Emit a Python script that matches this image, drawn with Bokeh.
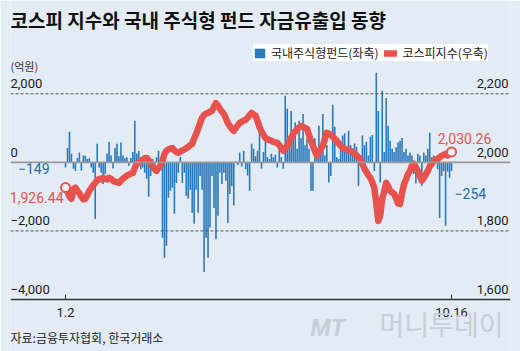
from bokeh.plotting import figure
from bokeh.models import Range1d, FixedTicker, Span, Label, Legend, LegendItem
from bokeh.core.properties import value
from bokeh.embed import file_html
from bokeh.resources import INLINE

# 국내주식형펀드 자금유출입 (억원), trading days 2015-01-02 .. 2015-10-16
fund = [
    -149, 420, 890, 250, -190, -250, 130, 290, -240, 200,
    190, 100, 120, -150, -300, -1650, 540, -150, -300, -630,
    -350, 250, 600, 200, -180, 420, 540, 180, 580, 200,
    120, 150, -100, 130, 300, 1210, 260, 340, -200, -150,
    -300, -480, -1000, -400, 100, -200, 150, 340, -200, -2200,
    -2780, -2430, -1030, -830, -740, -1500, -600, -300, 160, -600,
    -300, -980, -1060, -800, -1470, -1790, -800, -1470, -400, -800,
    -3200, -2200, -2780, -1900, -400, -1330, -2240, -1560, -300, -630,
    -300, -540, -1760, -920, -700, -1260, 30, -80, 290, -120,
    340, -200, -380, -830, 540, 400, 180, 340, 1010, -190,
    300, 630, 150, 100, 250, 150, 220, -150, 400, 150,
    -190, 1940, 1560, 600, 1500, 870, 1160, 400, 1210, 700,
    1410, 500, 700, 400, -830, -830, 700, 400, 1070, 250,
    1410, 200, 500, -590, -400, 1680, 1040, 150, 100, 400,
    780, 850, 300, 920, 500, 400, 550, 450, -680, 200,
    780, 500, 600, 200, 750, 800, -250, 2610, 1500, -590,
    2090, 300, 1880, 1070, 630, 400, 300, 440, 580, 630,
    710, 300, 400, 200, 290, 200, -340, -620, 250, 200,
    -680, 290, 200, 400, 860, 150, 200, 100, -200, -1620,
    -400, -250, -1850, -270, -450, -254,
]

# 코스피지수
kospi = [
    1926.44, 1915, 1900, 1894, 1922, 1926, 1917, 1910, 1900, 1892,
    1894, 1905, 1917, 1925, 1934, 1940, 1948, 1952, 1950, 1955,
    1952, 1950, 1955, 1952, 1946, 1944, 1942, 1940, 1947, 1952,
    1957, 1961, 1964, 1967, 1969, 1984, 1996, 1999, 2004, 2008,
    2012, 2013, 2006, 1999, 1988, 1980, 1975, 1983, 1990, 2005,
    2025, 2034, 2038, 2040, 2042, 2035, 2030, 2028, 2032, 2034,
    2038, 2041, 2045, 2050, 2054, 2070, 2083, 2098, 2115, 2130,
    2138, 2142, 2144, 2148, 2150, 2162, 2173, 2165, 2156, 2148,
    2141, 2128, 2115, 2106, 2098, 2092, 2100, 2108, 2115, 2118,
    2122, 2124, 2130, 2138, 2144, 2140, 2136, 2120, 2103, 2090,
    2080, 2071, 2068, 2065, 2063, 2060, 2058, 2057, 2050, 2042,
    2034, 2040, 2048, 2060, 2072, 2083, 2090, 2096, 2102, 2106,
    2104, 2100, 2098, 2080, 2063, 2048, 2033, 2019, 2030, 2040,
    2048, 2068, 2086, 2084, 2080, 2075, 2068, 2063, 2055, 2048,
    2042, 2040, 2037, 2035, 2034, 2030, 2025, 2020, 2015, 2010,
    1995, 1981, 1972, 1963, 1955, 1942, 1925, 1880, 1829, 1846,
    1894, 1915, 1940, 1930, 1917, 1912, 1908, 1895, 1880, 1879,
    1910, 1937, 1950, 1966, 1975, 1990, 1996, 1985, 1975, 1960,
    1946, 1955, 1965, 1975, 1988, 1996, 2003, 2008, 2010, 2015,
    2019, 2022, 2025, 2020, 2028, 2030.26,
]

days = list(range(len(fund)))
x_tick_days = [0, len(fund) - 1]
x_tick_labels = ["1.2", "10.16"]

left_ticks = [2000, 0, -2000, -4000]
left_tick_labels = ["2,000", "0", "\u22122,000", "\u22124,000"]
right_ticks = [2200, 2000, 1800, 1600]
right_tick_labels = ["2,200", "2,000", "1,800", "1,600"]

first_fund_label = "\u2212149"
last_fund_label = "\u2212254"
first_kospi_label = "1,926.44"
last_kospi_label = "2,030.26"

title_text = "코스피 지수와 국내 주식형 펀드 자금유출입 동향"
unit_text = "(억원)"
source_text = "자료:금융투자협회, 한국거래소"
legend_labels = ["국내주식형펀드(좌축)", "코스피지수(우축)"]

BG = "#e3ebf4"
BLUE = "#2a79bb"
RED = "#e8524e"
TEAL = "#1f6f9f"
KFONT = "Noto Sans CJK KR"
NFONT = "Roboto"

Y_MIN, Y_MAX = -4000, 4720
# frame covers the whole canvas; the axis is pinned at the -4,000 line
p = figure(width=520, height=351, output_backend="svg", toolbar_location=None,
           x_range=Range1d(-27.8, 224.8), y_range=Range1d(-5516, Y_MAX),
           y_axis_location=None, min_border_left=10, min_border_right=10,
           min_border_top=0, min_border_bottom=0)
p.extra_y_ranges = {"kospi": Range1d(1448.4, 2472)}
p.background_fill_color = BG
p.border_fill_color = BG
p.outline_line_color = None
p.xgrid.visible = False
p.ygrid.visible = False
p.title.visible = False

# grid lines
for v in [2000, -2000]:
    p.add_layout(Span(location=v, dimension="width", line_color="#555555",
                      line_dash="3 2", line_width=1))
p.add_layout(Span(location=0, dimension="width", line_color="#9a9a9a", line_width=1.6))

bars = p.vbar(x=days, top=fund, bottom=0, width=0.8, fill_color=BLUE, line_color=None)
line = p.line(days, kospi, y_range_name="kospi", line_color=RED, line_width=6.5,
              line_join="round", line_cap="round")
p.scatter([days[0], days[-1]], [kospi[0], kospi[-1]], y_range_name="kospi", size=9,
          fill_color="#f4f4f4", line_color=RED, line_width=2)

# bottom axis
ax = p.xaxis[0]
ax.fixed_location = Y_MIN
ax.ticker = FixedTicker(ticks=x_tick_days)
ax.major_label_overrides = {d: t for d, t in zip(x_tick_days, x_tick_labels)}
ax.major_tick_in = 5
ax.major_tick_out = 0
ax.minor_tick_line_color = None
ax.axis_line_color = "#333333"
ax.axis_line_width = 1.5
ax.major_tick_line_color = "#333333"
ax.major_label_text_font = NFONT
ax.major_label_text_font_size = "13px"
ax.major_label_text_color = "#222222"
ax.major_label_standoff = 8

# y tick labels above grid lines
xs, xe = p.x_range.start, p.x_range.end
p.text(x=[xs] * len(left_ticks), y=left_ticks, text=left_tick_labels,
       text_align="left", text_baseline="middle", y_offset=-10,
       text_font=value(NFONT), text_font_size="13px", text_color="#222222")
p.text(x=[xe] * len(right_ticks), y=right_ticks, text=right_tick_labels, y_range_name="kospi",
       text_align="right", text_baseline="middle", y_offset=-10, x_offset=-2,
       text_font=value(NFONT), text_font_size="13px", text_color="#222222")

# value annotations
p.text(x=[days[0]], y=[kospi[0]], text=[first_kospi_label], y_range_name="kospi",
       text_align="right", text_baseline="middle", x_offset=-2, y_offset=10,
       text_font=value(NFONT), text_font_size="14px", text_color=RED)
p.text(x=[days[-1]], y=[kospi[-1]], text=[last_kospi_label], y_range_name="kospi",
       text_align="center", text_baseline="middle", x_offset=13, y_offset=-13,
       text_font=value(NFONT), text_font_size="14px", text_color=RED)
p.text(x=[days[0]], y=[fund[0]], text=[first_fund_label],
       text_align="right", text_baseline="middle", x_offset=-16, y_offset=1,
       text_font=value(NFONT), text_font_size="14px", text_color=TEAL)
p.text(x=[days[-1]], y=[fund[-1]], text=[last_fund_label],
       text_align="left", text_baseline="middle", x_offset=3, y_offset=22,
       text_font=value(NFONT), text_font_size="14px", text_color=TEAL)

# title, unit, source, watermark (screen units from frame bottom-left)
p.add_layout(Label(x=0, y=332, x_units="screen", y_units="screen", text=title_text,
                   text_font=KFONT, text_font_size="19px", text_font_style="bold",
                   text_color="#111111", text_baseline="middle"))
p.add_layout(Label(x=0, y=286, x_units="screen", y_units="screen", text=unit_text,
                   text_font=KFONT, text_font_size="11px", text_color="#333333",
                   text_baseline="middle"))
p.add_layout(Label(x=0, y=14, x_units="screen", y_units="screen", text=source_text,
                   text_font=KFONT, text_font_size="12px", text_color="#222222",
                   text_baseline="middle"))
p.add_layout(Label(x=300, y=24, x_units="screen", y_units="screen", text="MT",
                   text_font=NFONT, text_font_size="24px", text_font_style="bold italic",
                   text_color="#c6ced7", text_baseline="middle"))
p.add_layout(Label(x=369, y=28, x_units="screen", y_units="screen", text="머니투데이",
                   text_font=KFONT, text_font_size="27px",
                   text_color="#c6ced7", text_baseline="middle"))

legend = Legend(items=[LegendItem(label=legend_labels[0], renderers=[bars]),
                       LegendItem(label=legend_labels[1], renderers=[line])],
                orientation="horizontal", location=(243, 290),
                background_fill_color="white", background_fill_alpha=1,
                border_line_color=None, label_text_font=KFONT,
                label_text_font_size="12px", label_text_color="#222222",
                glyph_width=13, glyph_height=12, padding=4, spacing=6,
                label_standoff=5, margin=0, label_height=12)
p.add_layout(legend)

open("out.html", "w").write(file_html(p, INLINE))
